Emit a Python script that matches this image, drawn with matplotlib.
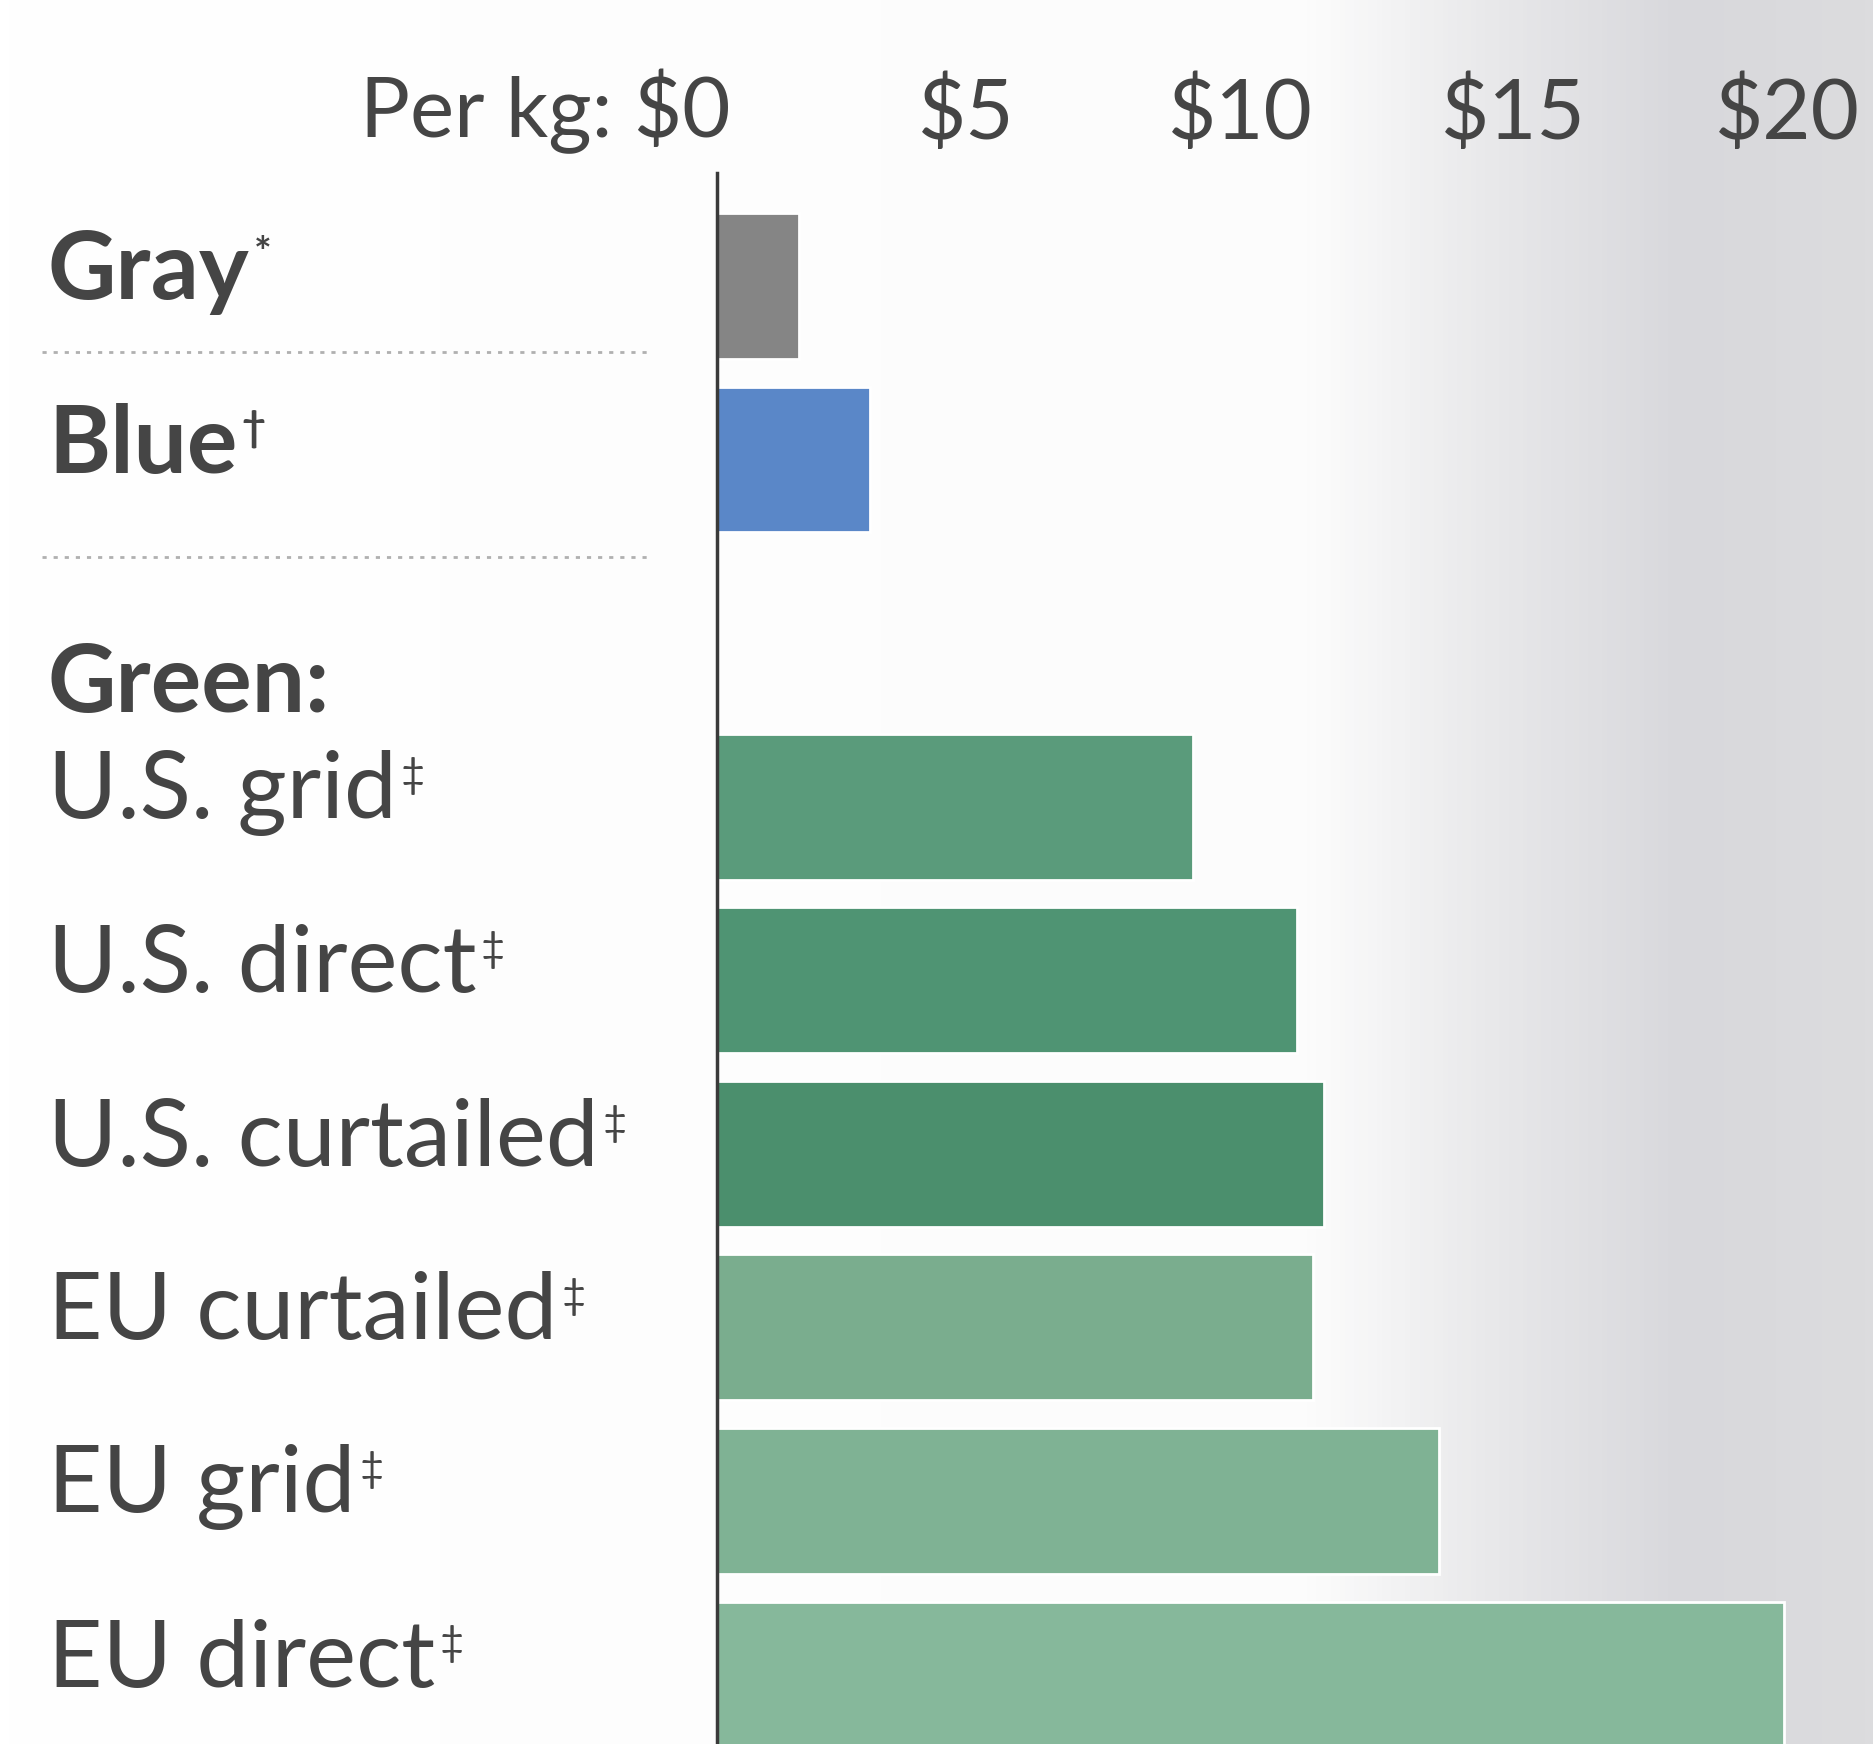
import numpy as np
import matplotlib
matplotlib.use('Agg')
import matplotlib.pyplot as plt
from matplotlib import transforms
from matplotlib.colors import LinearSegmentedColormap

plt.rcParams['font.family'] = ['Lato', 'DejaVu Sans']

# data (dollars per kg of hydrogen)
categories = ['Gray', 'Blue', 'Green:', 'U.S. grid', 'U.S. direct',
              'U.S. curtailed', 'EU curtailed', 'EU grid', 'EU direct']
marks = ['*', '\u2020', '', '\u2021', '\u2021', '\u2021', '\u2021', '\u2021', '\u2021']
bold = [True, True, True, False, False, False, False, False, False]
values = [1.5, 2.8, None, 8.7, 10.6, 11.1, 10.9, 13.2, 19.5]
bar_colors = ['#858585', '#5a87c8', None, '#5a9b7b', '#4f9473', '#4b8f6d',
              '#7aad8e', '#7fb294', '#86b89b']
tick_vals = [0, 5, 10, 15, 20]
tick_labels = ['Per kg: $0', '$5', '$10', '$15', '$20']

text_col = '#454545'

fig = plt.figure(figsize=(18.74, 17.44), dpi=100)

# paper shading from the photo
bg = fig.add_axes([0, 0, 1, 1], zorder=-10)
shade = LinearSegmentedColormap.from_list(
    'paper', [(0, '#ffffff'), (0.7, '#fcfcfc'), (0.8, '#e8e8ea'),
              (0.9, '#d8d8dc'), (1.0, '#dcdcde')])
bg.imshow(np.linspace(0, 1, 400)[None, :], aspect='auto', cmap=shade,
          extent=[0, 1, 0, 1])
bg.axis('off')

ax = fig.add_axes([717 / 1874, 0, 1 - 717 / 1874, 1 - 173 / 1744])
ax.patch.set_alpha(0)

ypos = np.arange(len(categories))
for y, v, c in zip(ypos, values, bar_colors):
    if v is None:
        continue
    ax.barh(y, v, height=0.84, color=c, edgecolor='white', linewidth=2)

ax.set_xlim(0, 21.15)
ax.set_ylim(8.4, -0.65)

for s in ['right', 'bottom', 'top']:
    ax.spines[s].set_visible(False)
ax.spines['left'].set_color('#3a3a3a')
ax.spines['left'].set_linewidth(2.5)
ax.spines['left'].set_zorder(5)

ax.set_yticks([])
ax.xaxis.tick_top()
ax.set_xticks(tick_vals)
ax.set_xticklabels(tick_labels)
ax.tick_params(axis='x', length=0, pad=14, labelsize=60, labelcolor=text_col)
for i, lab in enumerate(ax.get_xticklabels()):
    lab.set_parse_math(False)
    if i == 0:
        lab.set_horizontalalignment('right')
        lab.set_transform(lab.get_transform() +
                          transforms.ScaledTranslation(0.14, 0, fig.dpi_scale_trans))
    else:
        lab.set_transform(lab.get_transform() +
                          transforms.ScaledTranslation(-0.24, 0, fig.dpi_scale_trans))

# category labels on the left; the "Green:" header sits a bit lower in its row
label_y = ypos - 0.08
label_y[2] = 2.3
trans = transforms.blended_transform_factory(fig.transFigure, ax.transData)
for y, name, m, b in zip(label_y, categories, marks, bold):
    t = ax.text(48 / 1874, y, name, transform=trans, ha='left', va='center',
                fontsize=68, color=text_col, fontweight='bold' if b else 'normal')
    if m:
        ax.annotate(m, xy=(1.0, 0.92), xycoords=t, xytext=(3, 0),
                    textcoords='offset points', ha='left', va='top',
                    fontsize=30, color=text_col,
                    fontweight='bold' if b else 'normal')

# dotted separators
for y in [0.38, 1.56]:
    ax.plot([42 / 1874, 651 / 1874], [y, y], transform=trans, color='#b0b0b0',
            linestyle=(0, (1.5, 2.5)), linewidth=2, clip_on=False)

fig.savefig('out.png', dpi=100)
